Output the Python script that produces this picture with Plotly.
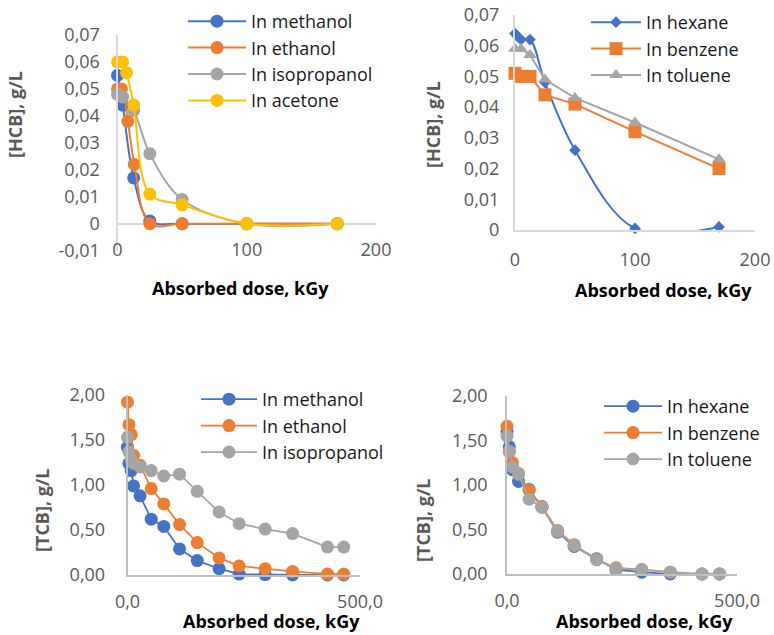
import plotly.graph_objects as go

W, H = 774, 635

# ---------------- DATA ----------------
# Panel 1: HCB in alcohols / acetone
hcb_methanol_x = [0, 4, 12.5, 25, 50, 100, 170]
hcb_methanol_y = [0.055, 0.044, 0.017, 0.001, 0.0, 0.0, 0.0]
hcb_ethanol_x = [0, 3, 8, 13, 25, 50, 100, 170]
hcb_ethanol_y = [0.050, 0.050, 0.038, 0.022, 0.0, 0.0, 0.0, 0.0]
hcb_isopropanol_x = [0, 4, 12.5, 25, 50, 100, 170]
hcb_isopropanol_y = [0.048, 0.047, 0.042, 0.026, 0.009, 0.0, 0.0]
hcb_acetone_x = [0, 4, 7, 12.5, 25, 50, 100, 170]
hcb_acetone_y = [0.060, 0.060, 0.056, 0.044, 0.011, 0.007, 0.0, 0.0]

# Panel 2: HCB in hydrocarbons
hcb_arom_x = [0, 5, 12.5, 25, 50, 100, 170]
hcb_hexane_x = [0, 2, 5, 12.5, 25, 50, 100, 170]
hcb_hexane_y = [0.064, 0.063, 0.062, 0.062, 0.048, 0.026, 0.0005, 0.001]
hcb_benzene_y = [0.051, 0.050, 0.050, 0.044, 0.041, 0.032, 0.020]
hcb_toluene_y = [0.059, 0.059, 0.057, 0.049, 0.043, 0.035, 0.023]

# Panel 3: TCB in alcohols
tcb_alc_x = [0, 3, 8, 13, 27, 51, 78, 112, 150, 197, 240, 296, 355, 430, 465]
tcb_methanol_y = [1.42, 1.24, 1.16, 0.99, 0.88, 0.62, 0.54, 0.29, 0.16, 0.07, 0.01, 0.005, 0.0, 0.0, 0.0]
tcb_ethanol_y = [1.92, 1.67, 1.56, 1.33, 1.22, 0.96, 0.79, 0.56, 0.36, 0.19, 0.10, 0.07, 0.04, 0.01, 0.01]
tcb_isopropanol_y = [1.53, 1.37, 1.28, 1.24, 1.20, 1.16, 1.10, 1.12, 0.93, 0.70, 0.57, 0.51, 0.46, 0.31, 0.31]

# Panel 4: TCB in hydrocarbons
tcb_hc_x = [0, 5, 12, 25, 48, 76, 110, 146, 195, 237, 293, 355, 424, 462]
tcb_hexane_y = [1.60, 1.43, 1.17, 1.04, 0.95, 0.75, 0.47, 0.31, 0.17, 0.05, 0.02, 0.0, 0.0, 0.0]
tcb_benzene_y = [1.66, 1.37, 1.25, 1.13, 0.94, 0.76, 0.49, 0.33, 0.16, 0.07, 0.05, 0.02, 0.0, 0.0]
tcb_toluene_y = [1.55, 1.38, 1.20, 1.12, 0.84, 0.75, 0.48, 0.32, 0.16, 0.06, 0.05, 0.02, 0.0, 0.0]

# Tick labels
p1_yticks = [-0.01, 0, 0.01, 0.02, 0.03, 0.04, 0.05, 0.06, 0.07]
p1_yticktext = ["-0,01", "0", "0,01", "0,02", "0,03", "0,04", "0,05", "0,06", "0,07"]
p2_yticks = [0, 0.01, 0.02, 0.03, 0.04, 0.05, 0.06, 0.07]
p2_yticktext = ["0", "0,01", "0,02", "0,03", "0,04", "0,05", "0,06", "0,07"]
top_xticks = [0, 100, 200]
top_xticktext = ["0", "100", "200"]
bot_yticks = [0, 0.5, 1.0, 1.5, 2.0]
bot_yticktext = ["0,00", "0,50", "1,00", "1,50", "2,00"]
bot_xticks = [0, 500]
bot_xticktext = ["0,0", "500,0"]

BLUE, ORANGE, GRAY, YELLOW = "#4472C4", "#ED7D31", "#A5A5A5", "#FFC000"
TICKCOL = "#595959"
FONT = "Open Sans"

def px(xp):
    return xp / W

def py(yp):
    return 1 - yp / H

fig = go.Figure()

def add(x, y, name, color, ax, leg, symbol="circle", size=13, shape="linear", lw=2):
    fig.add_trace(go.Scatter(
        x=x, y=y, name=name, mode="lines+markers",
        line=dict(color=color, width=lw, shape=shape, smoothing=1.0),
        marker=dict(color=color, size=size, symbol=symbol),
        xaxis="x" + ax, yaxis="y" + ax, legend=leg, cliponaxis=False,
    ))

# Panel 1
add(hcb_methanol_x, hcb_methanol_y, "In methanol", BLUE, "", "legend", shape="spline")
add(hcb_ethanol_x, hcb_ethanol_y, "In ethanol", ORANGE, "", "legend", shape="spline")
add(hcb_isopropanol_x, hcb_isopropanol_y, "In isopropanol", GRAY, "", "legend", shape="spline")
add(hcb_acetone_x, hcb_acetone_y, "In acetone", YELLOW, "", "legend", shape="spline")
# Panel 2
add(hcb_hexane_x, hcb_hexane_y, "In hexane", BLUE, "2", "legend2", symbol="diamond", size=9, shape="spline")
add(hcb_arom_x, hcb_benzene_y, "In benzene", ORANGE, "2", "legend2", symbol="square", size=13)
add(hcb_arom_x, hcb_toluene_y, "In toluene", GRAY, "2", "legend2", symbol="triangle-up", size=12)
# Panel 3
add(tcb_alc_x, tcb_methanol_y, "In methanol", BLUE, "3", "legend3", lw=1.75)
add(tcb_alc_x, tcb_ethanol_y, "In ethanol", ORANGE, "3", "legend3", lw=1.75)
add(tcb_alc_x, tcb_isopropanol_y, "In isopropanol", GRAY, "3", "legend3", lw=1.75)
# Panel 4
add(tcb_hc_x, tcb_hexane_y, "In hexane", BLUE, "4", "legend4", lw=1.75)
add(tcb_hc_x, tcb_benzene_y, "In benzene", ORANGE, "4", "legend4", lw=1.75)
add(tcb_hc_x, tcb_toluene_y, "In toluene", GRAY, "4", "legend4", lw=1.75)

tickfont = dict(family=FONT, size=18, color=TICKCOL)

def xax(domain, rng, tv, tt, anchor, standoff, showline, lc, lw):
    return dict(domain=domain, range=rng, tickvals=tv, ticktext=tt, anchor=anchor,
                showgrid=False, zeroline=False, showline=showline, linecolor=lc, linewidth=lw,
                ticks="", tickfont=tickfont, ticklabelstandoff=standoff, fixedrange=True,
                automargin=False)

def yax(domain, rng, tv, tt, anchor, standoff, zeroline, lc, lw):
    return dict(domain=domain, range=rng, tickvals=tv, ticktext=tt, anchor=anchor,
                showgrid=False, zeroline=zeroline, zerolinecolor=lc, zerolinewidth=lw,
                showline=True, linecolor=lc, linewidth=lw,
                ticks="", tickfont=tickfont, ticklabelstandoff=standoff, fixedrange=True,
                automargin=False)

L1 = "#D9D9D9"
L2 = "#BFBFBF"

legfont = dict(family=FONT, size=18, color="#1a1a1a")

def leg(xl, yt, iw):
    return dict(x=px(xl), y=py(yt), xanchor="left", yanchor="top", font=legfont,
                bgcolor="rgba(0,0,0,0)", itemwidth=iw, tracegroupgap=0)

def title_ann(text, xc, yc, angle=0, color="black"):
    return dict(text="<b>%s</b>" % text, x=px(xc), y=py(yc), xref="paper", yref="paper",
                xanchor="center", yanchor="middle", showarrow=False, textangle=angle,
                font=dict(family=FONT, size=18, color=color))

fig.update_layout(
    width=W, height=H, autosize=False,
    margin=dict(l=0, r=0, t=0, b=0, pad=0, autoexpand=False),
    paper_bgcolor="white", plot_bgcolor="white",
    font=dict(family=FONT),
    xaxis=xax([px(117.5), px(376)], [0, 200], top_xticks, top_xticktext, "y", -14, False, L1, 2),
    yaxis=yax([py(250.7), py(35)], [-0.01, 0.07], p1_yticks, p1_yticktext, "x", 12, True, L1, 2),
    xaxis2=xax([px(515), px(755)], [0, 200], top_xticks, top_xticktext, "y2", 12, True, L1, 2),
    yaxis2=yax([py(230), py(15)], [0, 0.07], p2_yticks, p2_yticktext, "x2", 10, False, L1, 2),
    xaxis3=xax([px(127.5), px(360)], [0, 500], bot_xticks, bot_xticktext, "y3", 10, True, L2, 1.5),
    yaxis3=yax([py(575), py(395)], [0, 2], bot_yticks, bot_yticktext, "x3", 17, False, L2, 1.5),
    xaxis4=xax([px(507), px(737)], [0, 500], bot_xticks, bot_xticktext, "y4", 10, True, L2, 1.5),
    yaxis4=yax([py(574), py(396)], [0, 2], bot_yticks, bot_yticktext, "x4", 14, False, L2, 1.5),
    legend=leg(183, 3, 58),
    legend2=leg(586, 4, 50),
    legend3=leg(196, 381, 56),
    legend4=leg(599, 388, 58),
    annotations=[
        title_ann("Absorbed dose, kGy", 240, 288),
        title_ann("Absorbed dose, kGy", 663, 290),
        title_ann("Absorbed dose, kGy", 271, 621),
        title_ann("Absorbed dose, kGy", 644, 621),
        title_ann("[HCB], g/L", 15, 115, -90, TICKCOL),
        title_ann("[HCB], g/L", 433, 125, -90, TICKCOL),
        title_ann("[TCB], g/L", 42, 510, -90, TICKCOL),
        title_ann("[TCB], g/L", 423, 520, -90, TICKCOL),
    ],
    showlegend=True,
)

fig.write_html("out.html", config={"displayModeBar": False},
               post_script="document.body.style.margin='0px';document.body.style.overflow='hidden';")
